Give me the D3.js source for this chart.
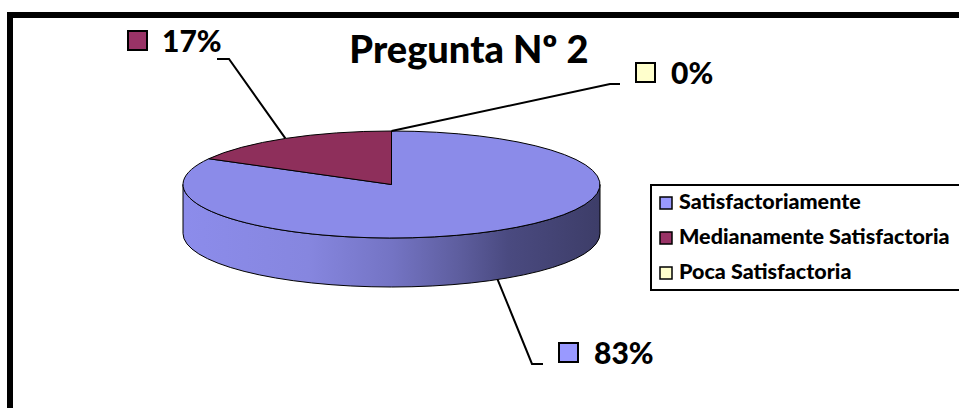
<!DOCTYPE html>
<html>
<head>
<meta charset="utf-8">
<script src="https://cdn.jsdelivr.net/npm/d3@7"></script>
<style>
  html, body { margin: 0; padding: 0; background: #fff; }
  svg { display: block; }
  text { font-family: Lato, "Open Sans", sans-serif; font-weight: 900; fill: #000; }
</style>
</head>
<body>
<svg id="chart" width="959" height="408"></svg>
<script>
// Survey answers for question 2
const categories = ["Satisfactoriamente", "Medianamente Satisfactoria", "Poca Satisfactoria"];
const values = [83, 17, 0];
const percentLabels = ["83%", "17%", "0%"];
const topColors = ["#8b8be9", "#8e2f5b", "#ffffcc"];
const keyColors = ["#9999ff", "#993366", "#ffffcc"];
const title = "Pregunta Nº 2";

const svg = d3.select("#chart");
const W = 959, H = 408;

// outer frame (runs past the right and bottom edges)
svg.append("rect")
  .attr("x", 10).attr("y", 15)
  .attr("width", W + 20).attr("height", H + 20)
  .attr("fill", "#fff").attr("stroke", "#000").attr("stroke-width", 6);

// title
svg.append("text")
  .attr("x", 469).attr("y", 63)
  .attr("text-anchor", "middle")
  .attr("font-size", 38)
  .text(title);

// 3D pie geometry
const cx = 391.5, cy = 184.5, rx = 208.5, ry = 53.5, depth = 49;
const pt = (a, dy = 0) => [cx + rx * Math.sin(a), cy - ry * Math.cos(a) + dy];

const pie = d3.pie().sort(null).value(d => d.value).startAngle(0).endAngle(2 * Math.PI);
const data = categories.map((c, i) => ({ name: c, value: values[i], label: percentLabels[i], top: topColors[i], key: keyColors[i] }));
const arcs = pie(data);

// side wall gradient
const defs = svg.append("defs");
const grad = defs.append("linearGradient")
  .attr("id", "wall").attr("gradientUnits", "userSpaceOnUse")
  .attr("x1", cx - rx).attr("x2", cx + rx).attr("y1", 0).attr("y2", 0);
[[0, "#8c8ceb"], [0.3, "#8686df"], [0.5, "#7474c4"], [0.66, "#5e5e9f"], [0.78, "#4a4a80"], [1, "#3d3d68"]]
  .forEach(([o, c]) => grad.append("stop").attr("offset", o).attr("stop-color", c));

function wallPath(a0, a1) {
  const s = Math.max(a0, Math.PI / 2), e = Math.min(a1, 3 * Math.PI / 2);
  if (e <= s) return null;
  const p0 = pt(s), p1 = pt(e), q1 = pt(e, depth), q0 = pt(s, depth);
  const large = (e - s) > Math.PI ? 1 : 0;
  return `M${p0}A${rx},${ry} 0 ${large} 1 ${p1}L${q1}A${rx},${ry} 0 ${large} 0 ${q0}Z`;
}

function topPath(a0, a1) {
  if (a1 - a0 <= 0) return null;
  const p0 = pt(a0), p1 = pt(a1);
  const large = (a1 - a0) > Math.PI ? 1 : 0;
  return `M${cx},${cy}L${p0}A${rx},${ry} 0 ${large} 1 ${p1}Z`;
}

const pieG = svg.append("g");
arcs.forEach(d => {
  const p = wallPath(d.startAngle, d.endAngle);
  if (p) pieG.append("path").attr("d", p)
    .attr("fill", d.index === 0 ? "url(#wall)" : d3.color(d.data.top).darker(0.8))
    .attr("stroke", "#000").attr("stroke-width", 1).attr("stroke-linejoin", "round");
});
arcs.forEach(d => {
  const p = topPath(d.startAngle, d.endAngle);
  if (p) pieG.append("path").attr("d", p)
    .attr("fill", d.data.top)
    .attr("stroke", "#000").attr("stroke-width", 1).attr("stroke-linejoin", "round");
});

// data labels with leader lines
const labelPos = {
  "Satisfactoriamente": { key: [559, 343], text: [594, 364], elbow: [[532, 364], [543, 364]], onWall: true },
  "Medianamente Satisfactoria": { key: [128, 31], text: [162, 52], elbow: [[229, 59], [217, 59]], onWall: false },
  "Poca Satisfactoria": { key: [636, 63], text: [671, 84], elbow: [[610, 84], [620, 84]], onWall: false }
};
arcs.forEach(d => {
  const L = labelPos[d.data.name];
  const mid = (d.startAngle + d.endAngle) / 2;
  const start = pt(mid, L.onWall ? depth : 0);
  svg.append("path")
    .attr("d", d3.line()([start, L.elbow[0], L.elbow[1]]))
    .attr("fill", "none").attr("stroke", "#000").attr("stroke-width", 2);
  svg.append("rect")
    .attr("x", L.key[0]).attr("y", L.key[1]).attr("width", 19).attr("height", 19)
    .attr("fill", d.data.key).attr("stroke", "#000").attr("stroke-width", 2);
  svg.append("text")
    .attr("x", L.text[0]).attr("y", L.text[1])
    .attr("font-size", 30)
    .text(d.data.label);
});

// legend
const lg = svg.append("g");
lg.append("rect")
  .attr("x", 651).attr("y", 185).attr("width", 330).attr("height", 105)
  .attr("fill", "#fff").attr("stroke", "#000").attr("stroke-width", 2);
const ly = d3.scalePoint().domain(categories).range([209, 279]);
categories.forEach((c, i) => {
  lg.append("rect")
    .attr("x", 660).attr("y", ly(c) - 12).attr("width", 12).attr("height", 12)
    .attr("fill", keyColors[i]).attr("stroke", "#000").attr("stroke-width", 1.5);
  lg.append("text")
    .attr("x", 679).attr("y", ly(c))
    .attr("font-size", 21.5)
    .text(c);
});
</script>
</body>
</html>
